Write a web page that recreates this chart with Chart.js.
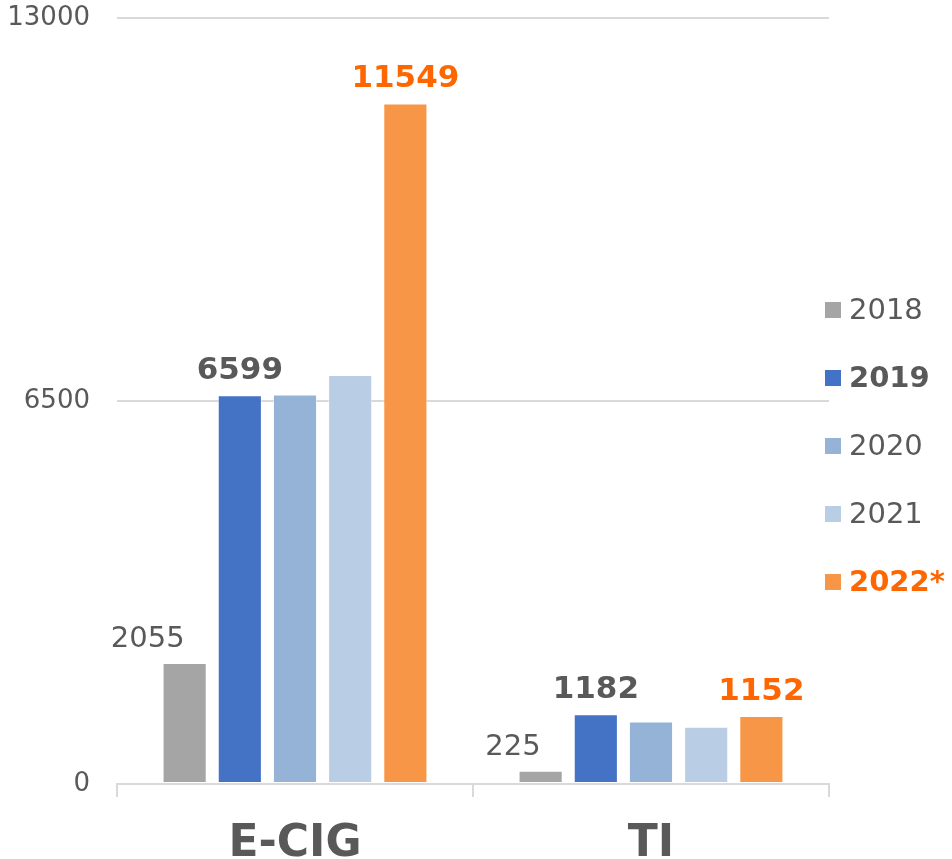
<!DOCTYPE html>
<html>
<head>
<meta charset="utf-8">
<script src="https://cdn.jsdelivr.net/npm/chart.js@4/dist/chart.umd.min.js"></script>
<style>
    html, body { margin: 0; padding: 0; background: #ffffff; }
    #wrap { width: 952px; height: 859px; position: relative; }
</style>
</head>
<body>
<div id="wrap"><canvas id="chart"></canvas></div>
<script>
// Categories and series
const categories = ['E-CIG', 'TI'];
const seriesLabels = ['2018', '2019', '2020', '2021', '2022*'];
const values2018 = [2055, 225];
const values2019 = [6599, 1182];
const values2020 = [6612, 1062];
const values2021 = [6940, 972];
const values2022 = [11549, 1152];
const yTicks = [0, 6500, 13000];

const FONT = "'DejaVu Sans', Verdana, sans-serif";
const TEXT_GREY = '#595959';
const ORANGE_TEXT = '#ff6600';

// Per-series look (colour, value label, legend text)
const seriesStyles = [
    { color: '#a5a5a5', showValue: true, bold: false, textColor: TEXT_GREY, align: 'right' },
    { color: '#4472c4', showValue: true, bold: true, textColor: TEXT_GREY, align: 'center' },
    { color: '#95b3d7', showValue: false, bold: false, textColor: TEXT_GREY, align: 'center' },
    { color: '#b9cde5', showValue: false, bold: false, textColor: TEXT_GREY, align: 'center' },
    { color: '#f79646', showValue: true, bold: true, textColor: ORANGE_TEXT, align: 'center' }
];

const seriesValues = [values2018, values2019, values2020, values2021, values2022];

const datasets = seriesLabels.map((label, i) => ({
    label: label,
    data: seriesValues[i],
    backgroundColor: seriesStyles[i].color,
    borderColor: 'rgba(255, 255, 255, 0.5)',
    borderWidth: 1,
    borderSkipped: false,
    barPercentage: 0.8,
    categoryPercentage: 0.775
}));

// Value labels above the bars
const valueLabels = {
    id: 'valueLabels',
    afterDatasetsDraw(chart) {
        const ctx = chart.ctx;
        ctx.save();
        chart.data.datasets.forEach((ds, i) => {
            const st = seriesStyles[i];
            if (!st.showValue) return;
            const meta = chart.getDatasetMeta(i);
            meta.data.forEach((bar, j) => {
                ctx.font = (st.bold ? 'bold 31px ' : '29px ') + FONT;
                ctx.fillStyle = st.textColor;
                ctx.textAlign = st.align;
                ctx.textBaseline = 'alphabetic';
                ctx.fillText(String(ds.data[j]), bar.x, bar.y - 16);
            });
        });
        ctx.restore();
    }
};

// Legend on the right, one entry per series
const sideLegend = {
    id: 'sideLegend',
    afterDraw(chart) {
        const ctx = chart.ctx;
        const x = chart.chartArea.right - 4;
        const yStart = 310;
        const step = 68;
        ctx.save();
        chart.data.datasets.forEach((ds, i) => {
            const st = seriesStyles[i];
            const y = yStart + i * step;
            ctx.fillStyle = st.color;
            ctx.fillRect(x, y - 8, 16, 16);
            ctx.font = (st.bold ? 'bold ' : '') + '29px ' + FONT;
            ctx.fillStyle = st.textColor;
            ctx.textAlign = 'left';
            ctx.textBaseline = 'middle';
            ctx.fillText(ds.label, x + 24, y + 1);
        });
        ctx.restore();
    }
};

new Chart(document.getElementById('chart').getContext('2d'), {
    type: 'bar',
    data: {
        labels: categories,
        datasets: datasets
    },
    options: {
        responsive: true,
        maintainAspectRatio: false,
        animation: false,
        layout: {
            padding: { top: 18, right: 123, bottom: 0, left: 0 }
        },
        plugins: {
            legend: { display: false },
            tooltip: { enabled: false }
        },
        scales: {
            x: {
                grid: {
                    offset: true,
                    drawOnChartArea: false,
                    drawTicks: true,
                    tickLength: 13,
                    color: '#d9d9d9',
                    lineWidth: 2
                },
                border: { display: true, color: '#d9d9d9', width: 2 },
                ticks: {
                    color: TEXT_GREY,
                    padding: 21,
                    font: { family: FONT, size: 44, weight: 'bold' }
                },
                afterFit(scale) { scale.height = 75; }
            },
            y: {
                min: 0,
                max: 13000,
                afterBuildTicks(scale) {
                    scale.ticks = yTicks.map(v => ({ value: v }));
                },
                grid: {
                    drawTicks: false,
                    color: '#d9d9d9',
                    lineWidth: 2
                },
                border: { display: false },
                ticks: {
                    color: TEXT_GREY,
                    padding: 27,
                    font: { family: FONT, size: 26 },
                    callback: (v) => String(v)
                },
                afterFit(scale) {
                    scale.width = 117;
                    scale.paddingTop = 0;
                    scale.paddingBottom = 0;
                }
            }
        }
    },
    plugins: [valueLabels, sideLegend]
});
</script>
</body>
</html>
